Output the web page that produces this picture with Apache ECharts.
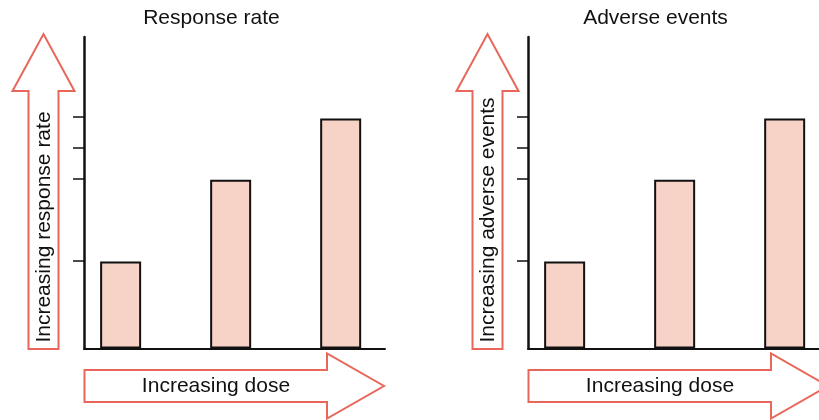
<!DOCTYPE html>
<html><head><meta charset="utf-8">
<script src="https://cdn.jsdelivr.net/npm/echarts@6/dist/echarts.min.js"></script>
<style>html,body{margin:0;padding:0;background:#fff}#c{width:819px;height:420px}</style>
</head><body><div id="c"></div>
<script>
const panelTitles = ['Response rate', 'Adverse events'];
const yArrowLabels = ['Increasing response rate', 'Increasing adverse events'];
const xArrowLabel = 'Increasing dose';
const doseLevels = [1, 2, 3];
const responseRate = [27.9, 54.2, 73.8];
const adverseEvents = [27.9, 54.2, 73.8];
const yTickValues = [28.2, 54.5, 64.5, 74.4];

const FONT = '"Liberation Sans", Arial, Helvetica, sans-serif';
const RED = '#e8665a';
const BAR = '#f7d2c6';
const INK = '#111111';
const panels = [0, 444];
const seriesValues = [responseRate, adverseEvents];
const yVertText = [227, 220];

const chart = echarts.init(document.getElementById('c'), null, {renderer: 'canvas'});

const grids = panels.map(ox => ({left: 84 + ox, top: 37, width: 301, height: 311.5, outerBoundsMode: 'none', containLabel: false}));
const xAxes = panels.map((ox, i) => ({
  type: 'value', gridIndex: i, min: 0.667, max: 3.403,
  axisLine: {show: true, onZero: false, lineStyle: {color: INK, width: 2}},
  axisTick: {show: false}, axisLabel: {show: false}, splitLine: {show: false}
}));
const yAxes = panels.map((ox, i) => ({
  type: 'value', gridIndex: i, min: 0, max: 100,
  axisLine: {show: true, lineStyle: {color: INK, width: 2.5}},
  axisTick: {show: true, inside: false, length: 11, customValues: yTickValues, lineStyle: {color: INK, width: 1.5}},
  axisLabel: {show: false}, splitLine: {show: false}
}));
const series = panels.map((ox, i) => ({
  type: 'bar', xAxisIndex: i, yAxisIndex: i, barWidth: 41,
  data: doseLevels.map((d, k) => [d, seriesValues[i][k]]),
  itemStyle: {color: BAR, borderColor: INK, borderWidth: 2},
  silent: true
}));

const graphics = [];
panels.forEach((ox, i) => {
  graphics.push({
    type: 'text', x: 211.5 + ox, y: 18.5,
    style: {text: panelTitles[i], font: '21px ' + FONT, fill: INK, align: 'center', verticalAlign: 'middle'}
  });
  graphics.push({
    type: 'polygon',
    shape: {points: [[ox+28.5,349],[ox+28.5,91],[ox+12.5,91],[ox+43.5,34],[ox+74.5,91],[ox+58.5,91],[ox+58.5,349]]},
    style: {fill: '#fff', stroke: RED, lineWidth: 2}
  });
  graphics.push({
    type: 'text', x: 44.5 + ox, y: yVertText[i], rotation: Math.PI / 2,
    style: {text: yArrowLabels[i], font: '21px ' + FONT, fill: INK, align: 'center', verticalAlign: 'middle'}
  });
  graphics.push({
    type: 'polygon',
    shape: {points: [[ox+84.5,370],[ox+327,370],[ox+327,353.5],[ox+384,386],[ox+327,418.5],[ox+327,402],[ox+84.5,402]]},
    style: {fill: '#fff', stroke: RED, lineWidth: 2}
  });
  graphics.push({
    type: 'text', x: 216 + ox, y: 386.5,
    style: {text: xArrowLabel, font: '21px ' + FONT, fill: INK, align: 'center', verticalAlign: 'middle'}
  });
});

chart.setOption({
  animation: false,
  backgroundColor: '#fff',
  grid: grids, xAxis: xAxes, yAxis: yAxes, series: series,
  graphic: graphics
});
</script></body></html>
